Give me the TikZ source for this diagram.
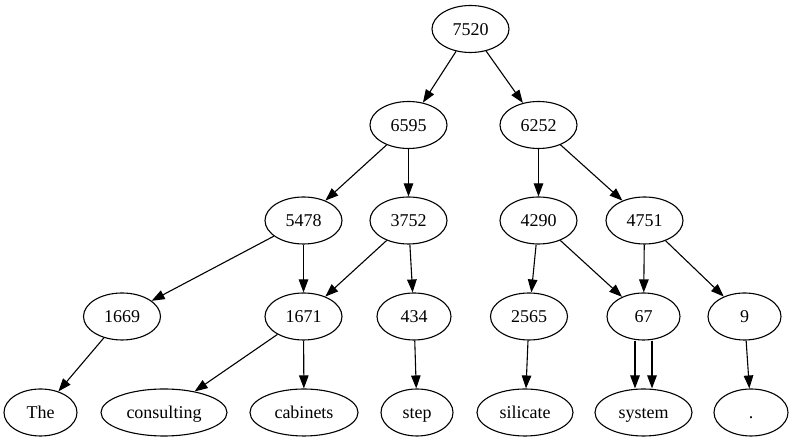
\documentclass[tikz,border=0pt]{standalone}
\usepackage{fontspec}
\setmainfont{Liberation Serif}
\usetikzlibrary{shapes.geometric,arrows.meta}
\begin{document}
\begin{tikzpicture}[x=1pt,y=1pt,
  tok/.style={ellipse,draw,line width=1.1pt,inner sep=0pt,minimum height=47pt,
    minimum width=#1,text height=12.6pt,text depth=0pt,
    font=\fontsize{18}{18}\selectfont},
  tok/.default=77pt,
  edge/.style={line width=1.1pt,-{Triangle[length=13pt,width=9.5pt]}}]
\useasboundingbox (0,0) rectangle (793,443);
% rows (top to bottom)
\node[tok] (n7520) at (470.5,414) {7520};
\node[tok] (n6595) at (408.5,318) {6595};
\node[tok] (n6252) at (538.5,318) {6252};
\node[tok] (n5478) at (303.5,222.5) {5478};
\node[tok] (n3752) at (408.5,222.5) {3752};
\node[tok] (n4290) at (538.5,222.5) {4290};
\node[tok] (n4751) at (644.5,222.5) {4751};
\node[tok] (n1669) at (122,126.5) {1669};
\node[tok] (n1671) at (303.5,126.5) {1671};
\node[tok=74pt] (n434) at (414,126.5) {434};
\node[tok] (n2565) at (529,126.5) {2565};
\node[tok=73pt] (n67) at (643.5,126.5) {67};
\node[tok=73pt] (n9) at (744.5,126.5) {9};
\node[tok=73pt] (wThe) at (40.5,30.5) {The};
\node[tok=126pt] (wcons) at (164,30.5) {consulting};
\node[tok=108pt] (wcab) at (304,30.5) {cabinets};
\node[tok=72pt] (wstep) at (417,30.5) {step};
\node[tok=96pt] (wsil) at (525,30.5) {silicate};
\node[tok=97pt] (wsys) at (643.5,30.5) {system};
\node[tok=74pt] (wdot) at (751,30.5) {.};
% edges
\draw[edge] (n7520) -- (n6595);
\draw[edge] (n7520) -- (n6252);
\draw[edge] (n6595) -- (n5478);
\draw[edge] (n6595) -- (n3752);
\draw[edge] (n6252) -- (n4290);
\draw[edge] (n6252) -- (n4751);
\draw[edge] (n5478) -- (n1669);
\draw[edge] (n5478) -- (n1671);
\draw[edge] (n3752) -- (n1671);
\draw[edge] (n3752) -- (n434);
\draw[edge] (n4290) -- (n2565);
\draw[edge] (n4290) -- (n67);
\draw[edge] (n4751) -- (n67);
\draw[edge] (n4751) -- (n9);
\draw[edge] (n1669) -- (wThe);
\draw[edge] (n1671) -- (wcons);
\draw[edge] (n1671) -- (wcab);
\draw[edge] (n434) -- (wstep);
\draw[edge] (n2565) -- (wsil);
\draw[edge] ([xshift=-8.5pt]n67.south) -- ([xshift=-8.5pt]wsys.north);
\draw[edge] ([xshift=8.5pt]n67.south) -- ([xshift=8.5pt]wsys.north);
\draw[edge] (n9) -- (wdot);
\end{tikzpicture}
\end{document}
